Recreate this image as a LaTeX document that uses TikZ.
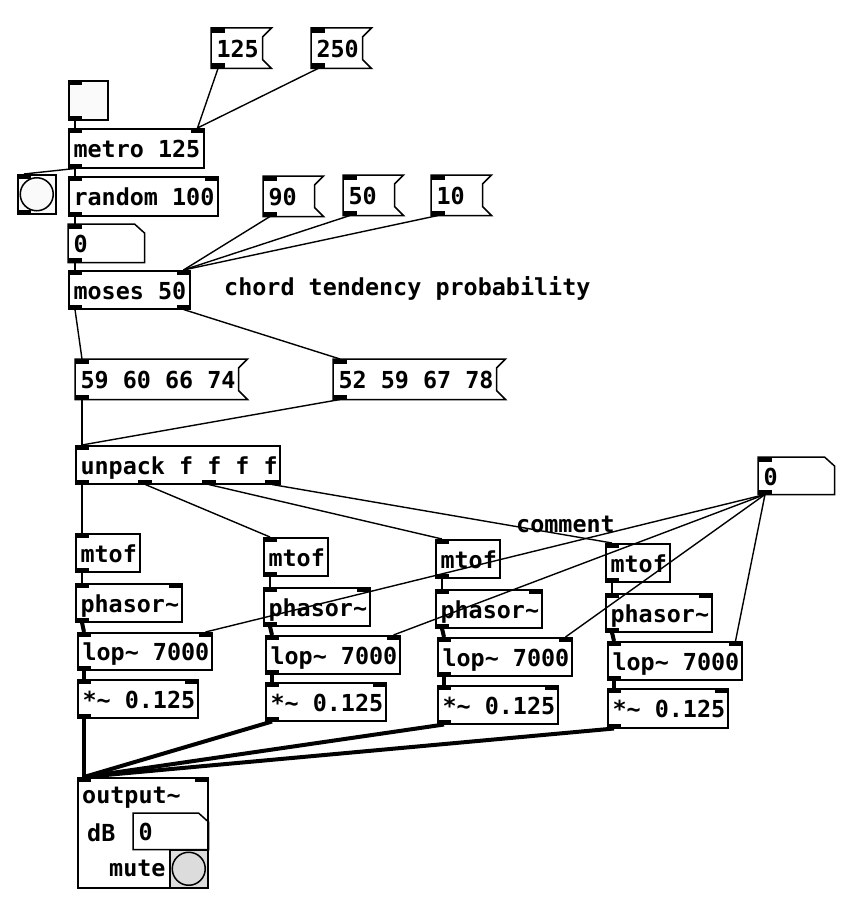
\documentclass[tikz,border=0pt]{standalone}
\usepackage{fontspec}
\newfontfamily\pdfam{DejaVu Sans Mono}
\definecolor{tglfill}{HTML}{FAFAFA}
\definecolor{mutefill}{HTML}{DCDCDC}
\tikzset{
  pdtxt/.style={font=\pdfam\bfseries\fontsize{23.4}{28}\selectfont},
  obj/.style={pdtxt, draw, line width=1.5pt, anchor=north west, inner xsep=4pt, inner ysep=0pt, text height=24pt, text depth=5pt},
  hollow/.style={obj, draw=none},
  ctl/.style={line width=1.4pt},
  sig/.style={line width=4pt},
  edge/.style={line width=1.5pt},
  cmt/.style={pdtxt, anchor=base west, inner sep=0pt},
}
% plain object box: name, x, y, w, h, text
\newcommand\pdobj[6]{\node[obj, minimum width=#4pt, minimum height=#5pt] (#1) at (#2,#3) {\makebox[\dimexpr#4pt-9.5pt\relax][l]{#6}};}
% message box: name, x, y, w, text
\newcommand\pdmsg[5]{\node[hollow, minimum width=#4pt, minimum height=39pt] (#1) at (#2,#3) {\makebox[\dimexpr#4pt-9.5pt\relax][l]{#5}};
  \draw[edge] (#1.north west) -- (#1.north east) -- ([xshift=-9pt,yshift=-9pt]#1.north east) -- ([xshift=-9pt,yshift=9pt]#1.south east) -- (#1.south east) -- (#1.south west) -- cycle;}
% number box: name, x, y, w, h, text
\newcommand\pdnum[6]{\node[hollow, minimum width=#4pt, minimum height=#5pt] (#1) at (#2,#3) {\makebox[\dimexpr#4pt-9.5pt\relax][l]{#6}};
  \draw[edge] (#1.north west) -- ([xshift=-10pt]#1.north east) -- ([yshift=-9pt]#1.north east) -- (#1.south east) -- (#1.south west) -- cycle;}
% iolets
\newcommand\inL[1]{\fill (#1.north west) rectangle ++(14,5);}
\newcommand\inR[1]{\fill ([xshift=-14pt]#1.north east) rectangle ++(14,5);}
\newcommand\outL[1]{\fill (#1.south west) rectangle ++(14,-5);}
\newcommand\outR[1]{\fill ([xshift=-14pt]#1.south east) rectangle ++(14,-5);}
\newcommand\outAt[2]{\fill ([xshift=#2pt]#1.south west) rectangle ++(14,-5);}
\begin{document}
\begin{tikzpicture}[x=1pt,y=-1pt]
\fill[white] (0,0) rectangle (855,907);
\useasboundingbox (0,0) rectangle (855,907);

% ---------- top section ----------
\pdmsg{mA125}{211}{28}{59}{125}
\pdmsg{mA250}{311}{28}{59}{250}
\node[obj, fill=tglfill, minimum width=39pt, minimum height=39pt] (tgl) at (68,80) {};
\pdobj{metro}{68}{128}{135}{39}{metro 125}
\node[obj, fill=tglfill, minimum width=38pt, minimum height=39pt] (bng) at (17,174) {};
\draw[edge, fill=tglfill] (bng.center) circle (16.5);
\pdobj{random}{68}{176}{149}{39}{random 100}
\pdmsg{m90}{263}{176}{59}{90}
\pdmsg{m50}{343}{175}{59}{50}
\pdmsg{m10}{431}{175}{59}{10}
\pdnum{numA}{68}{224}{75}{37}{0}
\pdobj{moses}{68}{270}{121}{38}{moses 50}
\node[cmt] (cmtA) at (224,295) {chord tendency probability};
\pdmsg{chA}{75}{359}{171}{59 60 66 74}
\pdmsg{chB}{333}{359}{171}{52 59 67 78}
\pdobj{unpack}{75}{445}{204}{38}{unpack f f f f}
\pdnum{numB}{758}{457}{75}{36}{0}
\node[cmt] (cmtB) at (516,532) {comment};

% ---------- voices ----------
\pdobj{mtofA}{75}{533}{64}{38}{mtof}
\pdobj{phA}{75}{583}{106}{38}{phasor\char`~}
\pdobj{lopA}{77}{632}{134}{37}{lop\char`~{} 7000}
\pdobj{mulA}{77}{679}{120}{38}{*\char`~{} 0.125}

\pdobj{mtofB}{263}{537}{64}{38}{mtof}
\pdobj{phB}{263}{587}{106}{38}{phasor\char`~}
\pdobj{lopB}{265}{635}{134}{38}{lop\char`~{} 7000}
\pdobj{mulB}{265}{682}{120}{38}{*\char`~{} 0.125}

\pdobj{mtofC}{435}{539}{64}{38}{mtof}
\pdobj{phC}{435}{589}{106}{38}{phasor\char`~}
\pdobj{lopC}{437}{637}{134}{38}{lop\char`~{} 7000}
\pdobj{mulC}{437}{685}{120}{38}{*\char`~{} 0.125}

\pdobj{mtofD}{605}{543}{64}{38}{mtof}
\pdobj{phD}{605}{593}{106}{38}{phasor\char`~}
\pdobj{lopD}{607}{641}{134}{38}{lop\char`~{} 7000}
\pdobj{mulD}{607}{688}{120}{39}{*\char`~{} 0.125}

% ---------- output~ ----------
\node[obj, minimum width=130pt, minimum height=110pt] (out) at (77,777) {};
\node[cmt] (outT) at (82,803) {output\char`~};
\node[cmt] (dbT) at (87,841) {dB};
\node[cmt] (muteT) at (109,876) {mute};
\pdnum{outnum}{133}{813}{74}{35}{0}
\node[obj, fill=mutefill, minimum width=38pt, minimum height=38pt] (mute) at (169,849) {};
\draw[edge, fill=mutefill] (mute.center) circle (16.5);

% ---------- iolets ----------
\inL{mA125}\outL{mA125}
\inL{mA250}\outL{mA250}
\inL{tgl}\outL{tgl}
\inL{metro}\inR{metro}\outL{metro}
\inL{bng}\outL{bng}
\inL{random}\inR{random}\outL{random}
\inL{m90}\outL{m90}
\inL{m50}\outL{m50}
\inL{m10}\outL{m10}
\inL{numA}\outL{numA}
\inL{moses}\inR{moses}\outL{moses}\outR{moses}
\inL{chA}\outL{chA}
\inL{chB}\outL{chB}
\inL{unpack}\outAt{unpack}{0}\outAt{unpack}{63.3}\outAt{unpack}{126.7}\outAt{unpack}{190}
\inL{numB}\outL{numB}
\foreach \v in {A,B,C,D}{
  \inL{mtof\v}\outL{mtof\v}
  \inL{ph\v}\inR{ph\v}\outL{ph\v}
  \inL{lop\v}\inR{lop\v}\outL{lop\v}
  \inL{mul\v}\inR{mul\v}\outL{mul\v}
}
\inL{out}\inR{out}

% ---------- connections ----------
\draw[ctl] ([xshift=7pt]mA125.south west) -- ([xshift=-7pt]metro.north east);
\draw[ctl] ([xshift=7pt]mA250.south west) -- ([xshift=-7pt]metro.north east);
\draw[ctl] ([xshift=7pt]tgl.south west) -- ([xshift=7pt]metro.north west);
\draw[ctl] ([xshift=7pt]metro.south west) -- ([xshift=7pt]bng.north west);
\draw[ctl] ([xshift=7pt]metro.south west) -- ([xshift=7pt]random.north west);
\draw[ctl] ([xshift=7pt]random.south west) -- ([xshift=7pt]numA.north west);
\draw[ctl] ([xshift=7pt]numA.south west) -- ([xshift=7pt]moses.north west);
\draw[ctl] ([xshift=7pt]m90.south west) -- ([xshift=-7pt]moses.north east);
\draw[ctl] ([xshift=7pt]m50.south west) -- ([xshift=-7pt]moses.north east);
\draw[ctl] ([xshift=7pt]m10.south west) -- ([xshift=-7pt]moses.north east);
\draw[ctl] ([xshift=7pt]moses.south west) -- ([xshift=7pt]chA.north west);
\draw[ctl] ([xshift=-7pt]moses.south east) -- ([xshift=7pt]chB.north west);
\draw[ctl] ([xshift=7pt]chA.south west) -- ([xshift=7pt]unpack.north west);
\draw[ctl] ([xshift=7pt]chB.south west) -- ([xshift=7pt]unpack.north west);
\draw[ctl] ([xshift=7pt]unpack.south west) -- ([xshift=7pt]mtofA.north west);
\draw[ctl] ([xshift=70.3pt]unpack.south west) -- ([xshift=7pt]mtofB.north west);
\draw[ctl] ([xshift=133.7pt]unpack.south west) -- ([xshift=7pt]mtofC.north west);
\draw[ctl] ([xshift=197pt]unpack.south west) -- ([xshift=7pt]mtofD.north west);
\foreach \v in {A,B,C,D}{
  \draw[ctl] ([xshift=7pt]mtof\v.south west) -- ([xshift=7pt]ph\v.north west);
  \draw[sig] ([xshift=7pt]ph\v.south west) -- ([xshift=7pt]lop\v.north west);
  \draw[sig] ([xshift=7pt]lop\v.south west) -- ([xshift=7pt]mul\v.north west);
  \draw[ctl] ([xshift=7pt]numB.south west) -- ([xshift=-7pt]lop\v.north east);
  \draw[sig] ([xshift=7pt]mul\v.south west) -- ([xshift=7pt]out.north west);
}
\end{tikzpicture}
\end{document}
